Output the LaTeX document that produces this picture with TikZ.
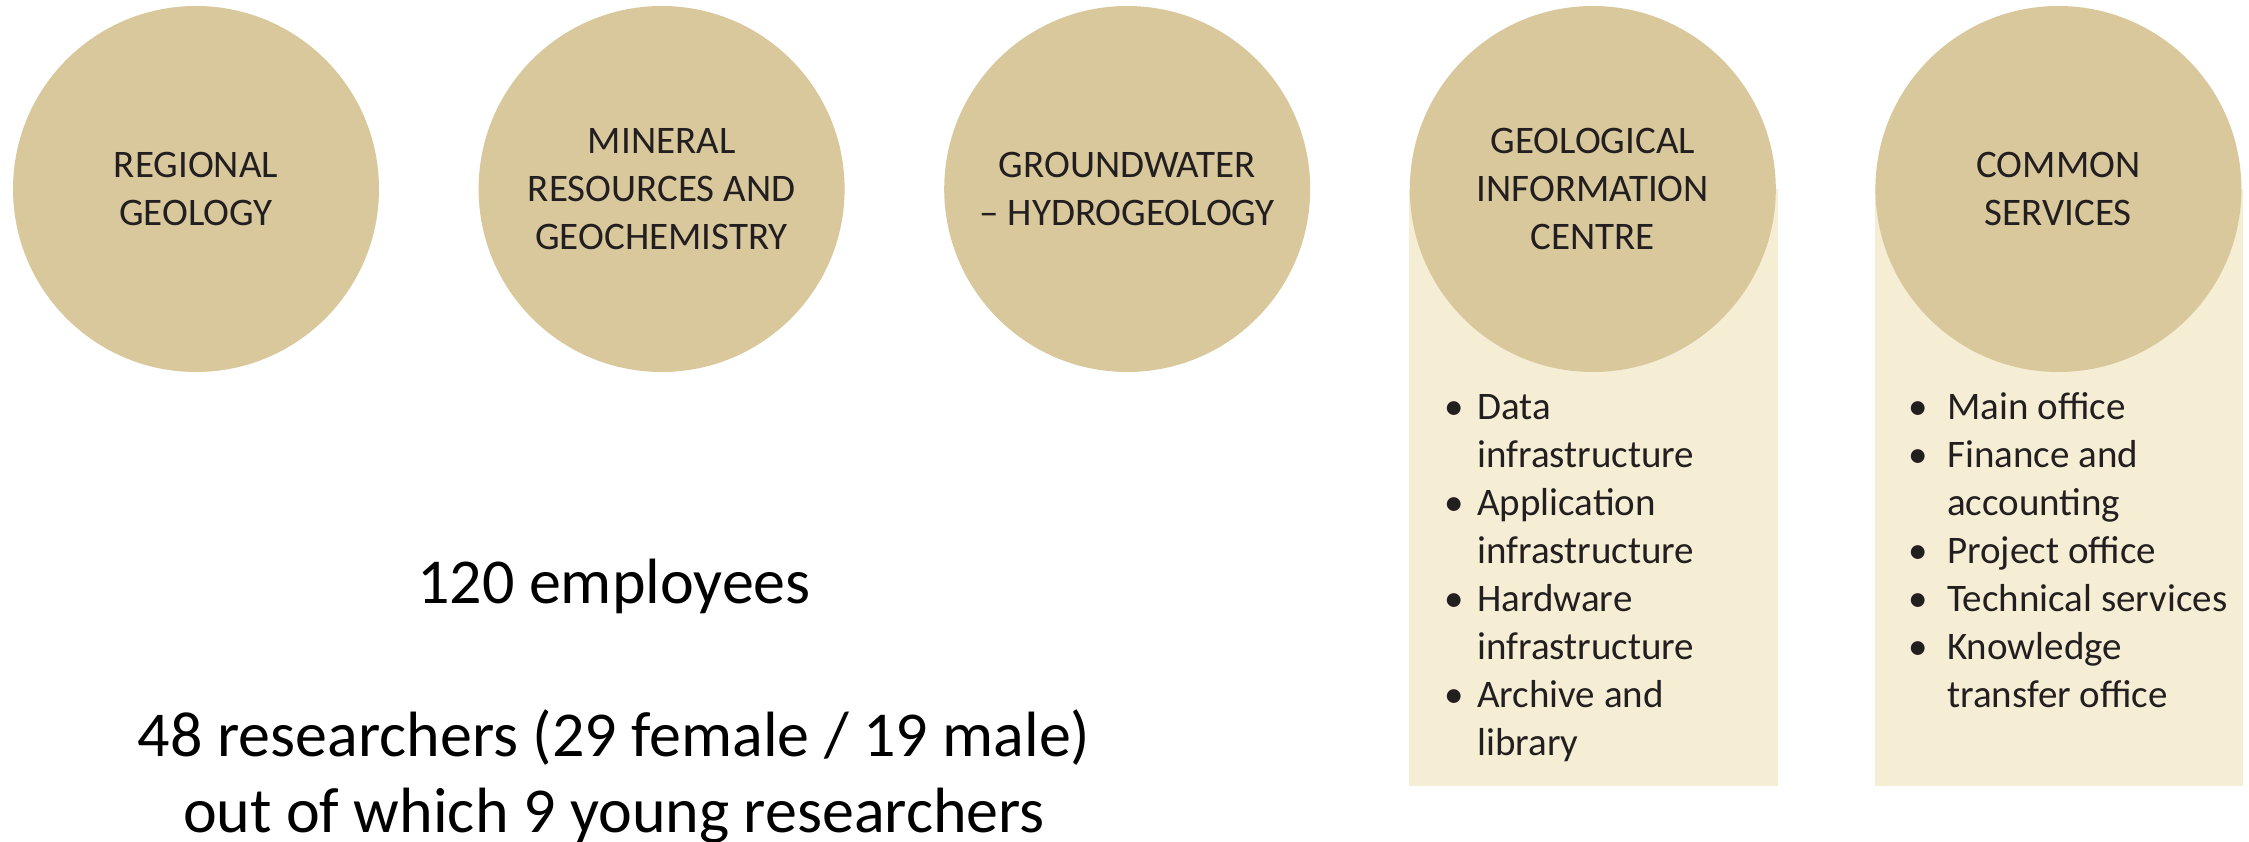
\documentclass[tikz,border=0pt]{standalone}
\usepackage{fontspec}
\setmainfont{Carlito}
\definecolor{circfill}{RGB}{216,200,156}
\definecolor{rectfill}{RGB}{245,237,212}
\definecolor{txt}{RGB}{35,31,32}
\begin{document}
\begin{tikzpicture}[x=1pt,y=-1pt,
  unit/.style={circle, fill=circfill, minimum size=366pt, inner sep=0pt, align=center, text=txt, font=\fontsize{39}{47.7}\selectfont},
  band/.style={fill=rectfill, draw=none},
  listtext/.style={anchor=base west, inner sep=0pt, text=txt, font=\fontsize{39}{48}\selectfont},
  stat/.style={anchor=base, inner sep=0pt, text=black, font=\fontsize{64}{76}\selectfont}]
\useasboundingbox (0,0) rectangle (2249,842);
\fill[white] (0,0) rectangle (2249,842);
\path[band] (1409,189) rectangle (1778,786);
\path[band] (1875,189) rectangle (2243,786);
\node[unit] (regional) at (196,189) {REGIONAL\\GEOLOGY};
\node[unit] (mineral) at (661.6,189) {MINERAL\\RESOURCES AND\\GEOCHEMISTRY};
\node[unit] (ground) at (1127.2,189) {GROUNDWATER\\– HYDROGEOLOGY};
\node[unit] (gic) at (1592.8,189) {GEOLOGICAL\\INFORMATION\\CENTRE};
\node[unit] (common) at (2058.4,189) {COMMON\\SERVICES};
\node[listtext] (giclist) at (1444,419) {\begin{tabular}[t]{@{}p{33pt}@{}l@{}}
•&Data\\
&infrastructure\\
•&Application\\
&infrastructure\\
•&Hardware\\
&infrastructure\\
•&Archive and\\
&library
\end{tabular}};
\node[listtext] (comlist) at (1908,419) {\begin{tabular}[t]{@{}p{39pt}@{}l@{}}
•&Main office\\
•&Finance and\\
&accounting\\
•&Project office\\
•&Technical services\\
•&Knowledge\\
&transfer office
\end{tabular}};
\node[stat] (employees) at (614,603) {120 employees};
\node[stat] (res1) at (614,756) {48 researchers (29 female / 19 male)};
\node[stat] (res2) at (614,832) {out of which 9 young researchers};
\end{tikzpicture}
\end{document}
